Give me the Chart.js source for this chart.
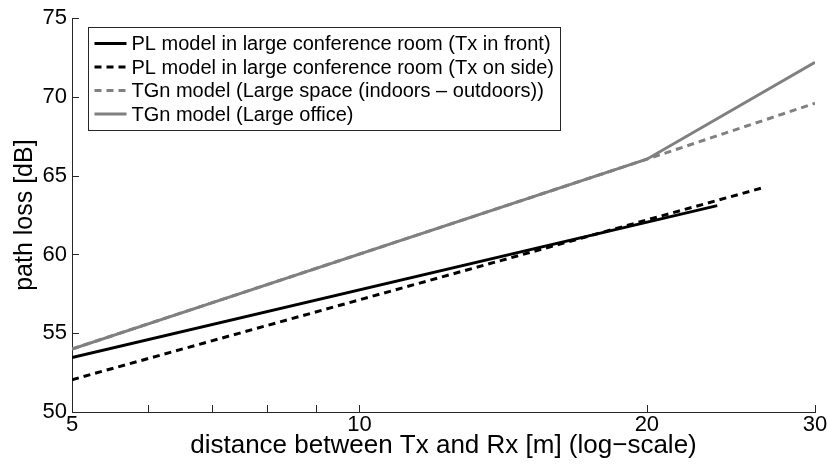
<!DOCTYPE html>
<html>
<head>
<meta charset="utf-8">
<script src="https://cdn.jsdelivr.net/npm/chart.js@4/dist/chart.umd.min.js"></script>
<style>
  html, body { margin: 0; padding: 0; background: #fff; }
  #wrap { width: 828px; height: 468px; }
</style>
</head>
<body>
<div id="wrap"><canvas id="chart" width="828" height="468"></canvas></div>
<script>
// distances [m] and path loss [dB]
const distFront = [5, 23.7]
const plFront = [53.45, 63.1]
const distSide = [5, 26.5]
const plSide = [52.05, 64.25]
const distTgnSpace = [5, 20, 30]
const plTgnSpace = [54.0, 66.05, 69.6]
const distTgnOffice = [5, 20, 30]
const plTgnOffice = [54.0, 66.05, 72.2]

const xTicks = [5, 6, 7, 8, 9, 10, 20, 30]
const xTickLabels = [5, 10, 20, 30]
const yTicks = [50, 55, 60, 65, 70, 75]

const labels = [
    'PL model in large conference room (Tx in front)',
    'PL model in large conference room (Tx on side)',
    'TGn model (Large space (indoors \u2013 outdoors))',
    'TGn model (Large office)'
]

const FONT = '"Liberation Sans", Arial, Helvetica, sans-serif'
const GRAY = '#808080'
const AXIS = '#262626'

const toPoints = (xs, ys) => xs.map((x, i) => ({ x: x, y: ys[i] }))

// inward tick marks, matlab style
const innerTicks = {
    id: 'innerTicks',
    afterDraw(chart) {
        const ctx = chart.ctx
        const area = chart.chartArea
        const xs = chart.scales.x
        const ys = chart.scales.y
        ctx.save()
        ctx.strokeStyle = AXIS
        ctx.lineWidth = 1
        ctx.beginPath()
        xTicks.forEach(v => {
            const px = Math.round(xs.getPixelForValue(v)) + 0.5
            ctx.moveTo(px, area.bottom)
            ctx.lineTo(px, area.bottom - 7)
        })
        yTicks.forEach(v => {
            const py = Math.round(ys.getPixelForValue(v)) + 0.5
            ctx.moveTo(area.left, py)
            ctx.lineTo(area.left + 7, py)
        })
        ctx.stroke()
        ctx.restore()
    }
}

// legend box with line samples
const lineLegend = {
    id: 'lineLegend',
    afterDraw(chart) {
        const ctx = chart.ctx
        const bx = 88.5, by = 27.5, bw = 472, bh = 103
        ctx.save()
        ctx.fillStyle = '#fff'
        ctx.fillRect(bx, by, bw, bh)
        ctx.strokeStyle = AXIS
        ctx.lineWidth = 1
        ctx.strokeRect(bx, by, bw, bh)
        ctx.font = '20px ' + FONT
        ctx.textBaseline = 'middle'
        chart.data.datasets.forEach((ds, i) => {
            const y = by + 16 + i * 23.5
            ctx.strokeStyle = ds.borderColor
            ctx.lineWidth = ds.borderWidth
            ctx.setLineDash(ds.borderDash || [])
            ctx.beginPath()
            ctx.moveTo(bx + 6, y)
            ctx.lineTo(bx + 38, y)
            ctx.stroke()
            ctx.setLineDash([])
            ctx.fillStyle = '#000'
            ctx.fillText(ds.label, bx + 43, y + 1)
        })
        ctx.restore()
    }
}

new Chart(document.getElementById('chart'), {
    type: 'line',
    data: {
        datasets: [
            { label: labels[0], data: toPoints(distFront, plFront), borderColor: '#000', borderWidth: 3 },
            { label: labels[1], data: toPoints(distSide, plSide), borderColor: '#000', borderWidth: 3, borderDash: [7, 5] },
            { label: labels[2], data: toPoints(distTgnSpace, plTgnSpace), borderColor: GRAY, borderWidth: 3, borderDash: [7, 5] },
            { label: labels[3], data: toPoints(distTgnOffice, plTgnOffice), borderColor: GRAY, borderWidth: 3 }
        ]
    },
    options: {
        responsive: false,
        animation: false,
        devicePixelRatio: 1,
        elements: { point: { radius: 0 }, line: { tension: 0 } },
        layout: { padding: { top: 14, right: 13, left: 0, bottom: 0 } },
        plugins: { legend: { display: false }, tooltip: { enabled: false } },
        scales: {
            x: {
                type: 'logarithmic',
                min: 5,
                max: 30,
                afterBuildTicks: s => { s.ticks = xTicks.map(v => ({ value: v })) },
                afterFit: s => { s.height = 56 },
                grid: { display: false, drawTicks: false },
                border: { display: true, color: AXIS, width: 1 },
                ticks: {
                    autoSkip: false,
                    maxRotation: 0,
                    padding: 0,
                    color: '#000',
                    font: { family: FONT, size: 22 },
                    callback: v => xTickLabels.includes(v) ? String(v) : ''
                },
                title: {
                    display: true,
                    text: 'distance between Tx and Rx [m] (log\u2212scale)',
                    color: '#000',
                    font: { family: FONT, size: 26 },
                    padding: { top: 0, bottom: 7 }
                }
            },
            y: {
                min: 50,
                max: 75,
                afterBuildTicks: s => { s.ticks = yTicks.map(v => ({ value: v })) },
                afterFit: s => { s.width = 72 },
                grid: { display: false, drawTicks: false },
                border: { display: true, color: AXIS, width: 1 },
                ticks: {
                    padding: 5,
                    color: '#000',
                    font: { family: FONT, size: 22 }
                },
                title: {
                    display: true,
                    text: 'path loss [dB]',
                    color: '#000',
                    font: { family: FONT, size: 25 },
                    padding: { top: 10, bottom: 0 }
                }
            }
        }
    },
    plugins: [innerTicks, lineLegend]
})
</script>
</body>
</html>
